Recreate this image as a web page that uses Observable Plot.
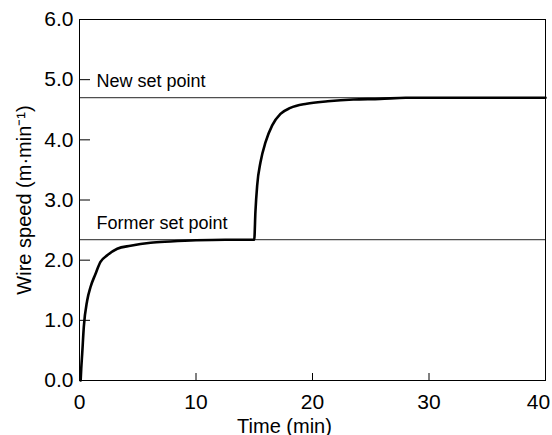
<!DOCTYPE html>
<html>
<head>
<meta charset="utf-8">
<script src="https://cdn.jsdelivr.net/npm/d3@7"></script>
<script src="https://cdn.jsdelivr.net/npm/@observablehq/plot@0.6"></script>
<style>
  html, body { margin: 0; padding: 0; background: #fff; }
  #chart svg { display: block; }
</style>
</head>
<body>
<div id="chart"></div>
<script>
// Time (min) and wire speed (m·min^-1)
const timeMin = [0.1, 0.15, 0.23, 0.37, 0.66, 0.94, 1.37, 1.8, 2.38, 3.24, 4.38, 6.1, 7.8, 10, 12.5, 15.0, 15.1, 15.25, 15.54, 15.97, 16.54, 17.25, 18.1, 19.5, 21.3, 23.5, 25.8, 28, 40];
const wireSpeed = [0, 0.2, 0.44, 0.89, 1.33, 1.55, 1.77, 1.97, 2.08, 2.19, 2.24, 2.29, 2.31, 2.33, 2.34, 2.34, 2.80, 3.24, 3.63, 3.96, 4.24, 4.43, 4.53, 4.60, 4.64, 4.67, 4.68, 4.70, 4.70];

// Set points
const setPointNames = ["New set point", "Former set point"];
const setPointValues = [4.70, 2.34];
const setPointLabelTime = 1.45;

// Axis ticks
const xTicks = [0, 10, 20, 30, 40];
const xTicksInner = [0, 10, 20, 30];
const xTickLast = [40];
const yTicks = [0, 1, 2, 3, 4, 5, 6];

const curve = timeMin.map((t, i) => ({t, v: wireSpeed[i]}));
const setPoints = setPointNames.map((name, i) => ({name, v: setPointValues[i], t: setPointLabelTime}));

const font = "'Liberation Sans', Arial, Helvetica, sans-serif";

const chart = Plot.plot({
  width: 552,
  height: 435,
  marginLeft: 79,
  marginRight: 7,
  marginTop: 19,
  marginBottom: 55,
  style: {fontFamily: font, fontSize: "20px", color: "#000", background: "#fff"},
  x: {domain: [0, 40]},
  y: {domain: [0, 6]},
  marks: [
    Plot.ruleY(setPoints, {y: "v", stroke: "#222", strokeWidth: 1}),
    Plot.line(curve, {x: "t", y: "v", stroke: "#000", strokeWidth: 2.6, curve: "monotone-x"}),
    Plot.text(setPoints, {x: "t", y: "v", text: "name", textAnchor: "start", lineAnchor: "bottom", dy: -10.5, fontSize: 18, fill: "#000"}),
    // inward tick marks
    Plot.ruleX(xTicks, {x: d => d, insetTop: 354, stroke: "#000", strokeWidth: 1}),
    Plot.ruleY(yTicks, {y: d => d, insetRight: 455, stroke: "#000", strokeWidth: 1}),
    Plot.frame({stroke: "#000", strokeWidth: 1}),
    Plot.axisX({ticks: xTicksInner, tickSize: 0, tickPadding: 14, fontSize: 21, label: null, tickFormat: d3.format("d")}),
    Plot.axisX({ticks: xTickLast, tickSize: 0, tickPadding: 14, fontSize: 21, label: null, dx: -7, tickFormat: d3.format("d")}),
    Plot.axisY({ticks: yTicks, tickSize: 0, tickPadding: 6, fontSize: 21, label: null, tickFormat: d3.format(".1f")}),
    Plot.text(["Time (min)"], {frameAnchor: "bottom", lineAnchor: "bottom", textAnchor: "middle", dx: -28, dy: 52, fontSize: 20, fill: "#000"}),
    Plot.text(["Wire speed (m·min⁻¹)"], {frameAnchor: "left", rotate: -90, textAnchor: "middle", lineAnchor: "bottom", dx: -49, fontSize: 20, fill: "#000"})
  ]
});

document.getElementById("chart").appendChild(chart);
</script>
</body>
</html>
